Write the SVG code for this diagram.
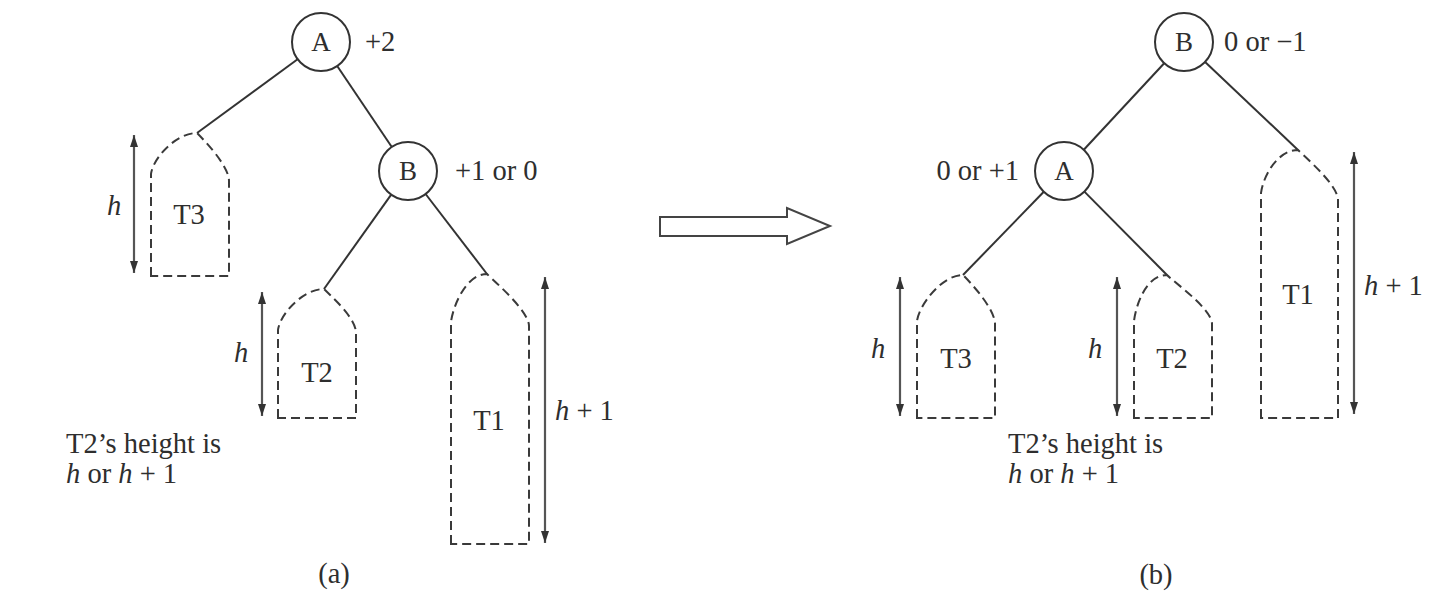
<svg xmlns="http://www.w3.org/2000/svg" width="1440" height="599" viewBox="0 0 1440 599">
<style>
text{font-family:"Liberation Serif","Times New Roman",serif;font-size:28.5px;fill:#2e2e2e}
.i{font-style:italic}
.m{text-anchor:middle}
.e{text-anchor:end}
.node text{font-size:27px}
.node circle{fill:#fff;stroke:#333;stroke-width:2}
.edge{stroke:#333;stroke-width:2;fill:none}
.sub{fill:none;stroke:#3a3a3a;stroke-width:2;stroke-dasharray:9 5}
.dim{stroke:#555;stroke-width:2.2;fill:none;marker-start:url(#ah);marker-end:url(#ah)}
</style>
<defs>
<marker id="ah" viewBox="0 0 12 8" refX="12" refY="4" markerWidth="12" markerHeight="8" markerUnits="userSpaceOnUse" orient="auto-start-reverse">
<path d="M0,0 L12,4 L0,8 z" fill="#333"/>
</marker>
</defs>
<rect width="1440" height="599" fill="#fff"/>

<g id="connectors">
<line class="edge" x1="297.6" y1="59.2" x2="197" y2="133"/>
<line class="edge" x1="337.2" y1="66" x2="391.8" y2="147"/>
<line class="edge" x1="391.2" y1="194.6" x2="324" y2="289"/>
<line class="edge" x1="425.6" y1="194" x2="487" y2="274"/>
<line class="edge" x1="1164.2" y1="63.2" x2="1083.8" y2="149.8"/>
<line class="edge" x1="1205.1" y1="61.9" x2="1298" y2="150"/>
<line class="edge" x1="1043.8" y1="191.8" x2="963" y2="275"/>
<line class="edge" x1="1084.4" y1="191.6" x2="1167" y2="275"/>
</g>

<g id="panel-a">
<g id="a-nodeA" class="node"><circle cx="321" cy="42" r="29"/><text class="m" x="321" y="51">A</text></g>
<text id="a-balA" x="365" y="51">+2</text>
<g id="a-nodeB" class="node"><circle cx="408" cy="171" r="29"/><text class="m" x="408" y="180">B</text></g>
<text id="a-balB" x="455" y="180">+1 or 0</text>

<g id="a-T3">
<path class="sub" d="M151,276 L151,174 C153,158 176,133 197,133 C205,141 229,166 229,181 L229,276 Z"/>
<text class="m" x="189" y="224">T3</text>
<line class="dim" x1="134" y1="135" x2="134" y2="273"/>
<text class="i m" x="114" y="215">h</text>
</g>
<g id="a-T2">
<path class="sub" d="M278,418 L278,330 C280,314 303,289 324,289 C332,297 356,318 356,333 L356,418 Z"/>
<text class="m" x="317" y="382">T2</text>
<line class="dim" x1="262" y1="292" x2="262" y2="416"/>
<text class="i m" x="241" y="362">h</text>
</g>
<g id="a-T1">
<path class="sub" d="M451,544 L451,322 C453,306 466,274 487,274 C495,282 529,311 529,326 L529,544 Z"/>
<text class="m" x="489" y="430">T1</text>
<line class="dim" x1="545" y1="277" x2="545" y2="543"/>
<text x="555" y="420"><tspan class="i">h</tspan> + 1</text>
</g>
<text x="66" y="453">T2’s height is</text>
<text x="66" y="483"><tspan class="i">h</tspan> or <tspan class="i">h</tspan> + 1</text>
<text class="m" x="334" y="583">(a)</text>
</g>

<g id="transform-arrow">
<polygon points="660,217 787,217 787,208 830,226 787,244 787,236 660,236" fill="#fff" stroke="#444" stroke-width="2" stroke-linejoin="miter"/>
</g>

<g id="panel-b">
<g id="b-nodeB" class="node"><circle cx="1184" cy="42" r="29"/><text class="m" x="1184" y="51">B</text></g>
<text id="b-balB" x="1224" y="51">0 or −1</text>
<g id="b-nodeA" class="node"><circle cx="1064" cy="171" r="29"/><text class="m" x="1064" y="180">A</text></g>
<text id="b-balA" class="e" x="1019" y="180">0 or +1</text>

<g id="b-T3">
<path class="sub" d="M917,418 L917,321 C919,305 942,275 963,275 C971,283 995,309 995,324 L995,418 Z"/>
<text class="m" x="956" y="368">T3</text>
<line class="dim" x1="900" y1="277" x2="900" y2="416"/>
<text class="i m" x="878" y="358">h</text>
</g>
<g id="b-T2">
<path class="sub" d="M1134,418 L1134,321 C1136,305 1146,275 1167,275 C1175,283 1212,309 1212,324 L1212,418 Z"/>
<text class="m" x="1172" y="368">T2</text>
<line class="dim" x1="1117" y1="277" x2="1117" y2="416"/>
<text class="i m" x="1095" y="358">h</text>
</g>
<g id="b-T1">
<path class="sub" d="M1261,418 L1261,193 C1263,177 1277,150 1298,150 C1306,158 1338,185 1338,200 L1338,418 Z"/>
<text class="m" x="1298" y="304">T1</text>
<line class="dim" x1="1354" y1="152" x2="1354" y2="414"/>
<text x="1364" y="295"><tspan class="i">h</tspan> + 1</text>
</g>
<text x="1008" y="453">T2’s height is</text>
<text x="1008" y="483"><tspan class="i">h</tspan> or <tspan class="i">h</tspan> + 1</text>
<text class="m" x="1156" y="584">(b)</text>
</g>
</svg>
